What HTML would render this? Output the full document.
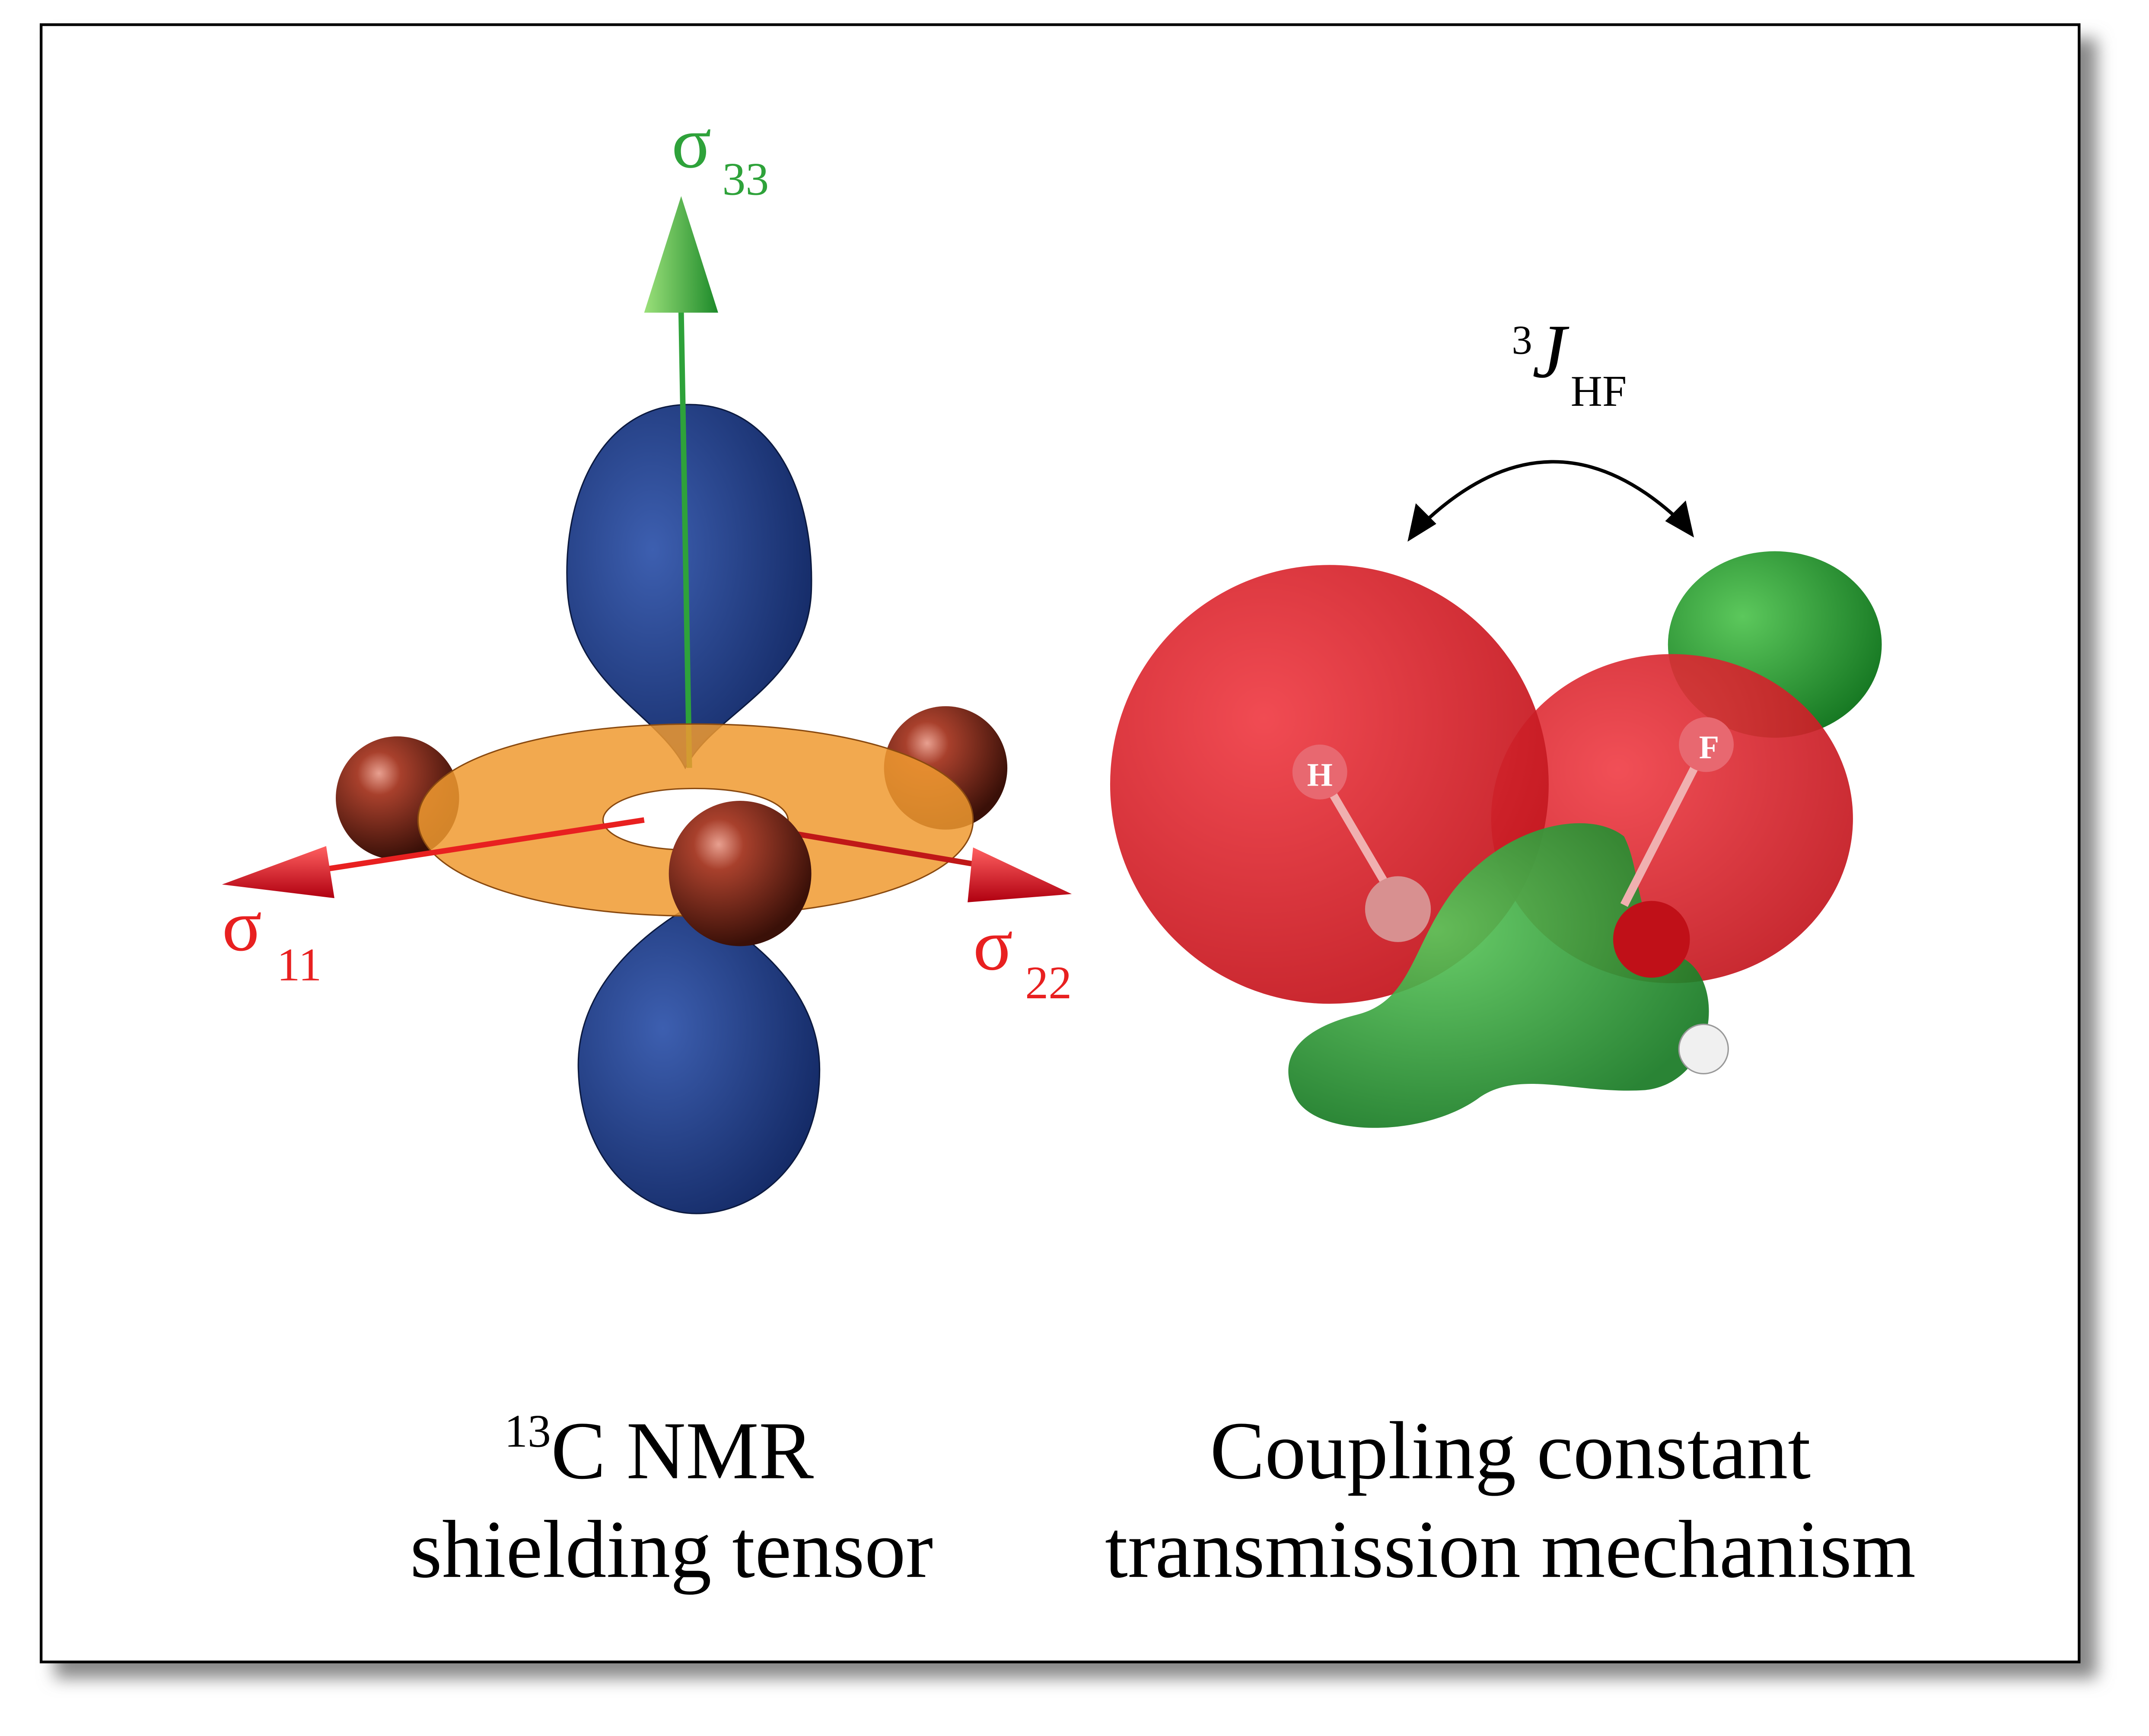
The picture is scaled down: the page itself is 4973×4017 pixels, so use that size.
<!DOCTYPE html>
<html><head><meta charset="utf-8"><style>
html,body{margin:0;padding:0;background:#fff;}
svg{display:block;}
text{font-family:"Liberation Serif",serif;}
</style></head><body>
<svg width="4973" height="4017" viewBox="0 0 1568 1266" preserveAspectRatio="none" xmlns="http://www.w3.org/2000/svg">
<defs>
<filter id="sh" x="-5%" y="-5%" width="115%" height="115%"><feGaussianBlur stdDeviation="6"/></filter>
<radialGradient id="blue" cx="35%" cy="40%" r="70%"><stop offset="0" stop-color="#3d5fb0"/><stop offset="1" stop-color="#142a66"/></radialGradient>
<radialGradient id="ball" cx="35%" cy="30%" r="70%"><stop offset="0" stop-color="#e8a090"/><stop offset="0.25" stop-color="#a8402c"/><stop offset="1" stop-color="#3a1008"/></radialGradient>
<radialGradient id="red" cx="35%" cy="35%" r="70%"><stop offset="0" stop-color="#f04048"/><stop offset="1" stop-color="#c41820"/></radialGradient>
<radialGradient id="grn" cx="35%" cy="35%" r="70%"><stop offset="0" stop-color="#5cc85c"/><stop offset="1" stop-color="#187a24"/></radialGradient>
<linearGradient id="gcone" x1="0" x2="1"><stop offset="0" stop-color="#9be07a"/><stop offset="1" stop-color="#1d8a2a"/></linearGradient>
<linearGradient id="rcone" x1="0" y1="0" x2="0" y2="1"><stop offset="0" stop-color="#ff6060"/><stop offset="1" stop-color="#b00010"/></linearGradient>
</defs>
<rect x="40" y="28" width="1490" height="1196" fill="#888" filter="url(#sh)"/>
<rect x="30" y="18" width="1487" height="1194" fill="#fff" stroke="#000" stroke-width="2"/>

<path d="M503,295 C440,295 410,360 414,430 C418,500 480,520 500,560 C520,520 590,500 592,430 C594,360 565,295 503,295Z" fill="url(#blue)" stroke="#0c1a40" stroke-width="1"/>
<path d="M505,660 C470,680 420,720 422,780 C424,850 470,885 508,885 C550,885 598,850 598,780 C598,720 545,680 505,660Z" fill="url(#blue)" stroke="#0c1a40" stroke-width="1"/>
<line x1="503" y1="560" x2="497" y2="228" stroke="#2ea23a" stroke-width="4"/>
<polygon points="497,143 470,228 524,228" fill="url(#gcone)"/>
<ellipse cx="290" cy="582" rx="45" ry="45" fill="url(#ball)"/>
<ellipse cx="690" cy="560" rx="45" ry="45" fill="url(#ball)"/>
<path d="M507,528 C620,528 710,555 710,598 C710,640 620,668 507,668 C395,668 305,640 305,598 C305,555 395,528 507,528Z M507,575 C460,575 440,588 440,598 C440,608 460,620 507,620 C555,620 575,608 575,598 C575,588 555,575 507,575Z" fill="#f09a30" fill-opacity="0.85" fill-rule="evenodd" stroke="#8a4a10" stroke-width="1"/>
<line x1="470" y1="598" x2="230" y2="635" stroke="#e82020" stroke-width="4"/>
<polygon points="162,645 238,617 244,655" fill="url(#rcone)"/>
<line x1="580" y1="608" x2="710" y2="630" stroke="#c01818" stroke-width="4"/>
<polygon points="782,652 710,618 706,658" fill="url(#rcone)"/>
<ellipse cx="540" cy="637" rx="52" ry="53" fill="url(#ball)"/>
<text x="490" y="122" font-size="54" fill="#2ea23a">σ</text><text x="527" y="142" font-size="34" fill="#2ea23a">33</text>
<text x="162" y="693" font-size="54" fill="#e82020">σ</text><text x="202" y="715" font-size="34" fill="#e82020">11</text>
<text x="710" y="707" font-size="54" fill="#e82020">σ</text><text x="748" y="728" font-size="34" fill="#e82020">22</text>

<ellipse cx="1295" cy="470" rx="78" ry="68" fill="url(#grn)"/>
<ellipse cx="1220" cy="597" rx="132" ry="120" fill="url(#red)" fill-opacity="0.92"/>
<circle cx="970" cy="572" r="160" fill="url(#red)" fill-opacity="0.94"/>
<path d="M1060,650 C1100,600 1160,590 1185,610 C1200,640 1190,680 1230,700 C1260,720 1250,790 1200,795 C1150,798 1110,780 1080,800 C1040,830 960,830 945,800 C930,770 950,750 990,740 C1030,730 1030,690 1060,650Z" fill="url(#grn)" fill-opacity="0.92"/>
<line x1="963" y1="563" x2="1020" y2="660" stroke="#f0b0b0" stroke-width="6"/>
<line x1="1245" y1="543" x2="1185" y2="660" stroke="#f0b0b0" stroke-width="6"/>
<circle cx="1020" cy="663" r="24" fill="#d89090"/>
<circle cx="1205" cy="685" r="28" fill="#c01018"/>
<circle cx="1243" cy="765" r="18" fill="#f0f0f0" stroke="#999"/>
<circle cx="963" cy="563" r="20" fill="#e86870"/>
<text x="963" y="573" font-size="24" font-weight="bold" fill="#fff" text-anchor="middle">H</text>
<circle cx="1245" cy="543" r="20" fill="#e86870"/>
<text x="1247" y="553" font-size="24" font-weight="bold" fill="#fff" text-anchor="middle">F</text>
<path d="M1035,385 Q1132,290 1228,382" fill="none" stroke="#000" stroke-width="2.5"/>
<polygon points="1027,395 1033,367 1048,382" fill="#000"/>
<polygon points="1236,392 1215,380 1230,365" fill="#000"/>
<text x="1103" y="258" font-size="30">3</text>
<text x="1118" y="275" font-size="56" font-style="italic">J</text>
<text x="1146" y="296" font-size="32">HF</text>

<text x="368" y="1055" font-size="34">13</text>
<text x="402" y="1078" font-size="60">C NMR</text>
<text x="490" y="1150" font-size="60" text-anchor="middle">shielding tensor</text>
<text x="1102" y="1078" font-size="60" text-anchor="middle">Coupling constant</text>
<text x="1102" y="1150" font-size="60" text-anchor="middle">transmission mechanism</text>
</svg>
</body></html>
